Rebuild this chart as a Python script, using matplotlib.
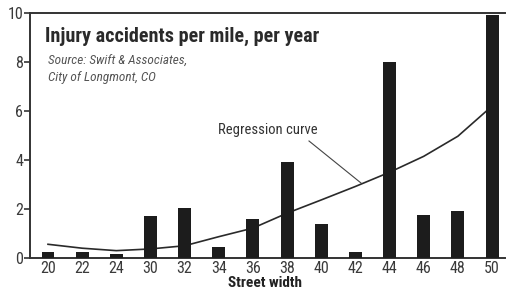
import matplotlib
matplotlib.use("Agg")
import matplotlib.pyplot as plt
from matplotlib import font_manager

names = {f.name for f in font_manager.fontManager.ttflist}
narrow = "Liberation Sans"
for cand in ["Liberation Sans Narrow", "Roboto Condensed", "Open Sans Condensed", "DejaVu Sans Condensed"]:
    if cand in names:
        narrow = cand
        break

widths = ["20", "22", "24", "30", "32", "34", "36", "38", "40", "42", "44", "46", "48", "50"]
accidents = [0.25, 0.25, 0.15, 1.7, 2.05, 0.45, 1.6, 3.9, 1.37, 0.26, 8.0, 1.75, 1.93, 9.9]
regression = [0.56, 0.40, 0.30, 0.37, 0.50, 0.87, 1.22, 1.83, 2.37, 2.92, 3.5, 4.15, 4.97, 6.2]
yticks = [0, 2, 4, 6, 8, 10]

fig = plt.figure(figsize=(5.09, 2.89), dpi=100)
ax = fig.add_axes([30/509, 1-258/289, 475/509, 245/289])

xs = list(range(len(widths)))
ax.plot(xs, regression, color="#2a2a2a", lw=1.2, zorder=2)
ax.bar(xs, accidents, width=0.38, color="#1c1c1c", zorder=3)

ax.set_xlim(-0.527, 13.38)
ax.set_ylim(0, 10)
ax.set_yticks(yticks)
ax.set_yticklabels([str(t) for t in yticks], fontfamily=narrow, fontsize=11.5, color="#3a3a3a")
ax.set_xticks(xs)
ax.set_xticklabels(widths, fontfamily=narrow, fontsize=11.5, color="#3a3a3a")
ax.tick_params(axis="x", length=0, pad=2)
ax.tick_params(axis="y", length=4, width=1.2, color="#333333", pad=1)

for s in ["left", "bottom", "top"]:
    ax.spines[s].set_color("#333333")
    ax.spines[s].set_linewidth(1.4)
ax.spines["right"].set_visible(False)

fig.text(45/509, 1-36/289, "Injury accidents per mile, per year",
         fontfamily=narrow, fontweight="bold", fontsize=14.5, color="#2a2a2a", va="center")
fig.text(48/509, 1-61/289, "Source: Swift & Associates,", fontfamily=narrow, style="italic",
         fontsize=9.5, color="#555555", va="center")
fig.text(48/509, 1-78/289, "City of Longmont, CO", fontfamily=narrow, style="italic",
         fontsize=9.5, color="#555555", va="center")

fig.text(218/509, 1-130/289, "Regression curve", fontfamily=narrow, fontsize=10.5,
         color="#333333", va="center")
fig.add_artist(plt.Line2D([309/509, 361/509], [1-141/289, 1-183/289], color="#444444", lw=0.8))

fig.text(265/509, 1-283/289, "Street width", fontfamily=narrow, fontweight="bold",
         fontsize=11, color="#222222", ha="center", va="center")

fig.savefig("out.png", dpi=100)
